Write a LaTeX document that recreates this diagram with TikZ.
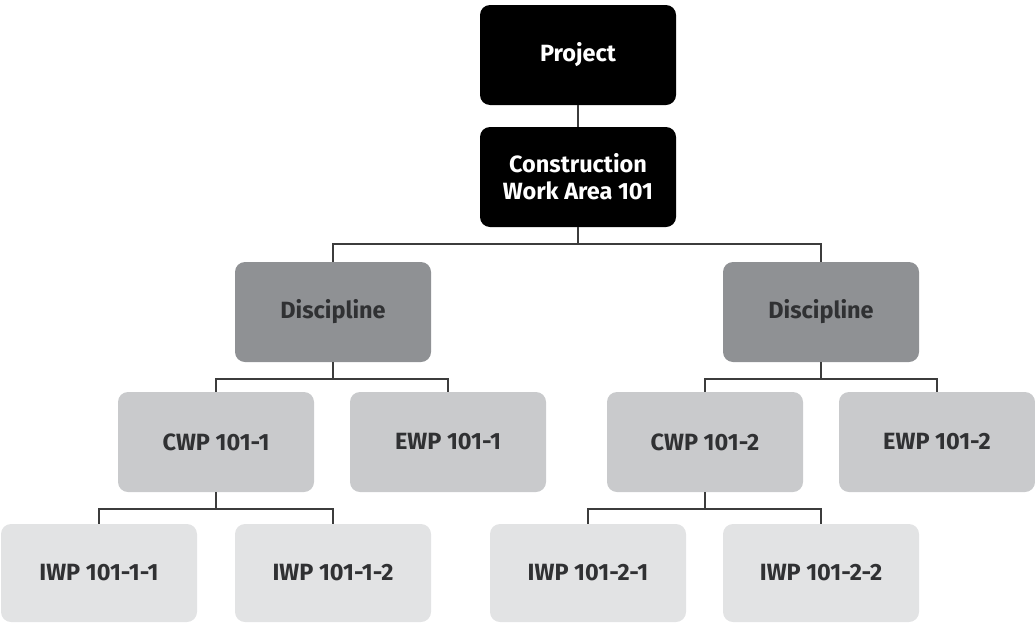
\documentclass[tikz,border=0pt]{standalone}
\usepackage{fontspec}
\setmainfont{Fira Sans}
\usepackage{tikz}
\usepackage{xcolor}
\usetikzlibrary{positioning, calc}
\definecolor{cTop}     {HTML}{000000}
\definecolor{cDisc}    {HTML}{8F9194}
\definecolor{cPack}    {HTML}{C9CACC}
\definecolor{cInst}    {HTML}{E2E3E4}
\definecolor{cText}    {HTML}{303133}
\definecolor{cLink}    {HTML}{3C3C3C}

\tikzset{
  wbs/.style={rounded corners=10pt, minimum width=196pt, minimum height=100pt,
              font=\bfseries\fontsize{23.5}{27}\selectfont, align=center, text=cText},
  topbox/.style={wbs, fill=cTop, text=white},
  discbox/.style={wbs, fill=cDisc},
  packbox/.style={wbs, fill=cPack},
  instbox/.style={wbs, fill=cInst, minimum height=98pt},
  link/.style={draw=cLink, line width=2pt},
}

\begin{document}
\begin{tikzpicture}[x=1pt, y=-1pt]
  \useasboundingbox (0,0) rectangle (1035,624);
  % Top of the breakdown
  \node[topbox] (proj) at (578, 55)  {Project};
  \node[topbox] (cwa)  at (578, 177) {Construction\\Work Area 101};
  % Disciplines
  \node[discbox] (discL) at (333, 312) {Discipline};
  \node[discbox] (discR) at (821, 312) {Discipline};
  % Work packages
  \node[packbox] (cwpA) at (216, 442) {CWP 101-1};
  \node[packbox] (ewpA) at (448, 442) {EWP 101-1};
  \node[packbox] (cwpB) at (705, 442) {CWP 101-2};
  \node[packbox] (ewpB) at (937, 442) {EWP 101-2};
  % Installation work packages
  \node[instbox] (iwpAa) at (99, 573)  {IWP 101-1-1};
  \node[instbox] (iwpAb) at (333, 573) {IWP 101-1-2};
  \node[instbox] (iwpBa) at (588, 573) {IWP 101-2-1};
  \node[instbox] (iwpBb) at (821, 573) {IWP 101-2-2};
  % Tree connectors
  \draw[link] (proj) -- (cwa);
  \foreach \p/\c in {cwa/discL, cwa/discR, discL/cwpA, discL/ewpA,
                     discR/cwpB, discR/ewpB, cwpA/iwpAa, cwpA/iwpAb,
                     cwpB/iwpBa, cwpB/iwpBb}
    \draw[link] (\p.south) -- ++(0,17) -| (\c.north);
\end{tikzpicture}
\end{document}
